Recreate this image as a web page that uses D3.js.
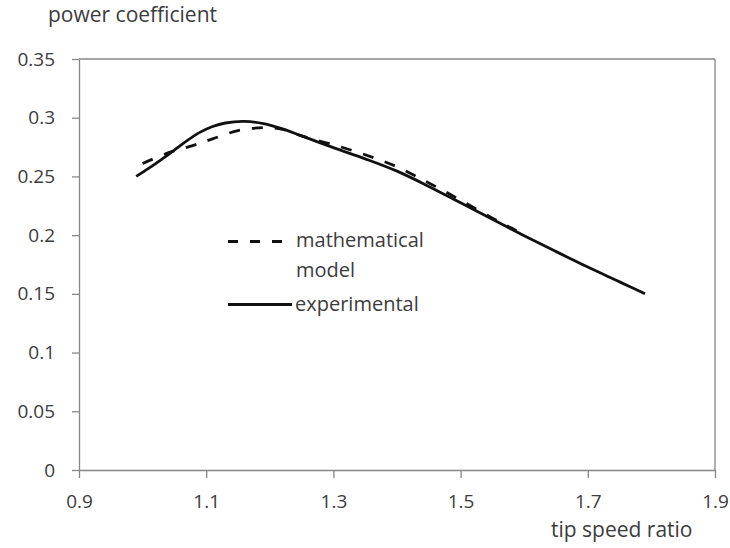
<!DOCTYPE html>
<html lang="en">
<head>
    <meta charset="UTF-8">
    <title>Power coefficient vs tip speed ratio</title>
    <style>
        body { margin: 0; background: #fff; }
        text { font-family: "Open Sans", sans-serif; fill: #3c3c3c; }
        .axis path, .axis line { stroke: #878787; stroke-width: 1.3; }
        .axis text { font-size: 19px; }
    </style>
    <script src="https://d3js.org/d3.v7.min.js"></script>
</head>
<body>
    <svg width="730" height="548"></svg>
    <script>
        // tip speed ratio (x) and power coefficient (y)
        const expTsr = [0.99, 1.01, 1.03, 1.05, 1.07, 1.09, 1.11, 1.13, 1.16, 1.19, 1.22, 1.25, 1.30, 1.35, 1.40, 1.45, 1.50, 1.55, 1.60, 1.65, 1.70, 1.75, 1.79];
        const expCp  = [0.250, 0.257, 0.2645, 0.2725, 0.2805, 0.2875, 0.2925, 0.2955, 0.2968, 0.295, 0.2905, 0.2845, 0.2745, 0.265, 0.2545, 0.2415, 0.2275, 0.2135, 0.1995, 0.186, 0.1728, 0.1602, 0.150];

        const modelTsr = [1.00, 1.04, 1.08, 1.11, 1.15, 1.19, 1.22, 1.25, 1.30, 1.35, 1.40, 1.45, 1.50, 1.55, 1.58, 1.60];
        const modelCp  = [0.261, 0.270, 0.2765, 0.282, 0.289, 0.2915, 0.2900, 0.2845, 0.277, 0.2685, 0.2582, 0.2445, 0.2298, 0.2145, 0.206, 0.2000];

        const xTicks = [0.9, 1.1, 1.3, 1.5, 1.7, 1.9];
        const xTickLabels = ["0.9", "1.1", "1.3", "1.5", "1.7", "1.9"];
        const yTicks = [0, 0.05, 0.1, 0.15, 0.2, 0.25, 0.3, 0.35];
        const yTickLabels = ["0", "0.05", "0.1", "0.15", "0.2", "0.25", "0.3", "0.35"];

        const svg = d3.select("svg");
        const plotLeft = 79, plotRight = 715, plotTop = 59, plotBottom = 470;

        const x = d3.scaleLinear().domain([0.9, 1.9]).range([plotLeft, plotRight]);
        const y = d3.scaleLinear().domain([0, 0.35]).range([plotBottom, plotTop]);

        // frame: top and right
        svg.append("line")
            .attr("x1", plotLeft).attr("x2", plotRight).attr("y1", plotTop).attr("y2", plotTop)
            .attr("stroke", "#878787").attr("stroke-width", 1.3);
        svg.append("line")
            .attr("x1", plotRight).attr("x2", plotRight).attr("y1", plotTop).attr("y2", plotBottom)
            .attr("stroke", "#878787").attr("stroke-width", 1.3);

        svg.append("g").attr("class", "axis")
            .attr("transform", `translate(0,${plotBottom})`)
            .call(d3.axisBottom(x).tickValues(xTicks)
                .tickFormat((d, i) => xTickLabels[i])
                .tickSize(8).tickSizeOuter(0).tickPadding(17));

        svg.append("g").attr("class", "axis")
            .attr("transform", `translate(${plotLeft},0)`)
            .call(d3.axisLeft(y).tickValues(yTicks)
                .tickFormat((d, i) => yTickLabels[i])
                .tickSize(7).tickSizeOuter(0).tickPadding(17));

        const line = d3.line().x(d => x(d[0])).y(d => y(d[1])).curve(d3.curveCatmullRom.alpha(0.5));

        svg.append("path")
            .datum(d3.zip(modelTsr, modelCp))
            .attr("d", line)
            .attr("fill", "none")
            .attr("stroke", "#111")
            .attr("stroke-width", 2.8)
            .attr("stroke-dasharray", "11,12");

        svg.append("path")
            .datum(d3.zip(expTsr, expCp))
            .attr("d", line)
            .attr("fill", "none")
            .attr("stroke", "#111")
            .attr("stroke-width", 2.8);

        // legend
        const lg = svg.append("g");
        lg.append("line")
            .attr("x1", 228).attr("x2", 288).attr("y1", 241.5).attr("y2", 241.5)
            .attr("stroke", "#111").attr("stroke-width", 2.8)
            .attr("stroke-dasharray", "10,12");
        lg.append("text").attr("x", 296).attr("y", 247).attr("font-size", 20).text("mathematical");
        lg.append("text").attr("x", 296).attr("y", 277).attr("font-size", 20).text("model");
        lg.append("line")
            .attr("x1", 228).attr("x2", 292).attr("y1", 304.5).attr("y2", 304.5)
            .attr("stroke", "#111").attr("stroke-width", 2.8);
        lg.append("text").attr("x", 295).attr("y", 310.5).attr("font-size", 20).text("experimental");

        // axis titles
        svg.append("text").attr("x", 48).attr("y", 22).attr("font-size", 21).text("power coefficient");
        svg.append("text").attr("x", 551).attr("y", 537).attr("font-size", 21).text("tip speed ratio");
    </script>
</body>
</html>
